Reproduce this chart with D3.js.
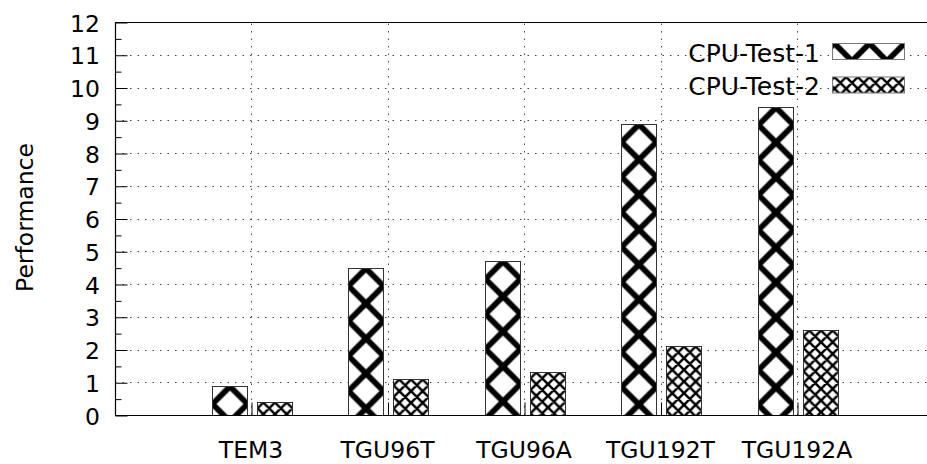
<!DOCTYPE html>
<html>
<head>
<meta charset="utf-8">
<script src="https://cdn.jsdelivr.net/npm/d3@7/dist/d3.min.js"></script>
<style>
  html, body { margin: 0; padding: 0; background: #fff; }
  svg { display: block; }
  text { font-family: "DejaVu Sans", Verdana, sans-serif; fill: #000; }
</style>
</head>
<body>
<svg id="chart" width="927" height="464"></svg>
<script>
// Benchmark results per platform
const categories = ["TEM3", "TGU96T", "TGU96A", "TGU192T", "TGU192A"];
const seriesNames = ["CPU-Test-1", "CPU-Test-2"];
const test1Values = [0.9, 4.5, 4.7, 8.9, 9.4];
const test2Values = [0.4, 1.1, 1.3, 2.1, 2.6];
const yTickValues = [0, 1, 2, 3, 4, 5, 6, 7, 8, 9, 10, 11, 12];
const yLabel = "Performance";

const W = 927, H = 464;
const plot = { left: 115, right: 933.5, top: 22, bottom: 415 };
const fontSize = 23.5;
const legendFontSize = 25;

// Hatch styles: big and fine cross-hatch
const hatch = [
  { period: 35, stroke: 5.8 },
  { period: 35 / 3, stroke: 2.5 }
];

const svg = d3.select("#chart");
const defs = svg.append("defs");

const x = d3.scalePoint()
  .domain(categories)
  .range([plot.left - 0.5, plot.right])
  .padding(1);

const inner = d3.scaleBand()
  .domain(seriesNames)
  .range([-39.5, 40.5])
  .paddingInner(10 / 45);

const y = d3.scaleLinear()
  .domain([0, 12])
  .range([plot.bottom, plot.top]);

// Cross-hatch pattern anchored at a given corner
function makePattern(id, style, ox, oy) {
  const p = style.period;
  const pat = defs.append("pattern")
    .attr("id", id)
    .attr("patternUnits", "userSpaceOnUse")
    .attr("x", ox).attr("y", oy)
    .attr("width", p).attr("height", p);
  pat.append("rect").attr("width", p).attr("height", p).attr("fill", "#fff");
  let d = "";
  [-1.5, -0.5, 0.5, 1.5, 2.5].forEach(k => {
    const c = k * p;
    d += `M${c + p},${-p}L${c - 2 * p},${2 * p}`;
    d += `M${c - p},${-p}L${c + 2 * p},${2 * p}`;
  });
  pat.append("path").attr("d", d)
    .attr("stroke", "#000").attr("stroke-width", style.stroke)
    .attr("fill", "none");
  return `url(#${id})`;
}

// Grid
const gGrid = svg.append("g")
  .attr("stroke", "#444")
  .attr("stroke-width", 1)
  .attr("stroke-dasharray", "1.5,6");
gGrid.selectAll("line.h")
  .data(yTickValues.filter(v => v > 0 && v < 12))
  .join("line")
  .attr("x1", plot.left).attr("x2", W)
  .attr("y1", d => Math.round(y(d)) + 0.5).attr("y2", d => Math.round(y(d)) + 0.5);
gGrid.selectAll("line.v")
  .data(categories)
  .join("line")
  .attr("x1", d => Math.round(x(d)) + 0.5).attr("x2", d => Math.round(x(d)) + 0.5)
  .attr("y1", plot.bottom).attr("y2", plot.top);

// Bars
const barData = [];
categories.forEach((c, i) => {
  barData.push({ cat: c, s: 0, v: test1Values[i] });
  barData.push({ cat: c, s: 1, v: test2Values[i] });
});

svg.append("g").selectAll("rect")
  .data(barData)
  .join("rect")
  .attr("x", d => Math.round(x(d.cat) + inner(seriesNames[d.s])) + 0.5)
  .attr("y", d => Math.round(y(d.v)) + 0.5)
  .attr("width", inner.bandwidth())
  .attr("height", d => Math.round(y(0)) - Math.round(y(d.v)))
  .attr("fill", (d, i) => makePattern("hb" + i, hatch[d.s],
      Math.round(x(d.cat) + inner(seriesNames[d.s])) + 0.5,
      Math.round(y(d.v)) + 0.5))
  .attr("stroke", "#333")
  .attr("stroke-width", 1);

// Axes lines (left, bottom, top)
const gAxis = svg.append("g").attr("stroke", "#000").attr("stroke-width", 1.2);
gAxis.append("line").attr("x1", plot.left + 0.5).attr("x2", plot.left + 0.5)
  .attr("y1", plot.top).attr("y2", plot.bottom + 0.5);
gAxis.append("line").attr("x1", plot.left).attr("x2", W)
  .attr("y1", plot.bottom + 0.5).attr("y2", plot.bottom + 0.5);
gAxis.append("line").attr("x1", plot.left).attr("x2", W)
  .attr("y1", plot.top + 0.5).attr("y2", plot.top + 0.5);

// Y ticks: major at integers, minor at halves
const yAxis = d3.axisRight(y).tickValues(yTickValues).tickSize(12).tickFormat("");
const gy = svg.append("g").attr("transform", `translate(${plot.left + 0.5},0.5)`).call(yAxis);
gy.select(".domain").remove();
gy.selectAll("line").attr("stroke", "#000");
const yMinor = d3.axisRight(y).tickValues(d3.range(0.5, 12, 1)).tickSize(6).tickFormat("");
const gym = svg.append("g").attr("transform", `translate(${plot.left + 0.5},0.5)`).call(yMinor);
gym.select(".domain").remove();
gym.selectAll("line").attr("stroke", "#000");

// X ticks
const xAxis = d3.axisTop(x).tickSize(13).tickFormat("");
const gx = svg.append("g").attr("transform", `translate(0.5,${plot.bottom + 0.5})`).call(xAxis);
gx.select(".domain").remove();
gx.selectAll("line").attr("stroke", "#000");

// Tick labels
svg.append("g").selectAll("text")
  .data(yTickValues)
  .join("text")
  .attr("x", 100)
  .attr("y", d => y(d) + 9.5)
  .attr("text-anchor", "end")
  .attr("font-size", fontSize)
  .text(d => d);

svg.append("g").selectAll("text")
  .data(categories)
  .join("text")
  .attr("x", d => x(d))
  .attr("y", 458)
  .attr("text-anchor", "middle")
  .attr("font-size", fontSize)
  .text(d => d);

svg.append("text")
  .attr("transform", "translate(33,217.5) rotate(-90)")
  .attr("text-anchor", "middle")
  .attr("font-size", fontSize)
  .text(yLabel);

// Legend
const legend = svg.append("g");
seriesNames.forEach((name, i) => {
  const ty = 61.5 + i * 33.5;
  legend.append("text")
    .attr("x", 820).attr("y", ty)
    .attr("text-anchor", "end")
    .attr("font-size", legendFontSize)
    .text(name);
  const bx = 832.5, by = 43.5 + i * 33.5;
  const p = hatch[i].period;
  legend.append("rect")
    .attr("x", bx).attr("y", by)
    .attr("width", 72).attr("height", 16)
    .attr("fill", makePattern("lg" + i, hatch[i], bx + 2 - p / 2, by))
    .attr("stroke", "#777").attr("stroke-width", 1);
});
</script>
</body>
</html>
